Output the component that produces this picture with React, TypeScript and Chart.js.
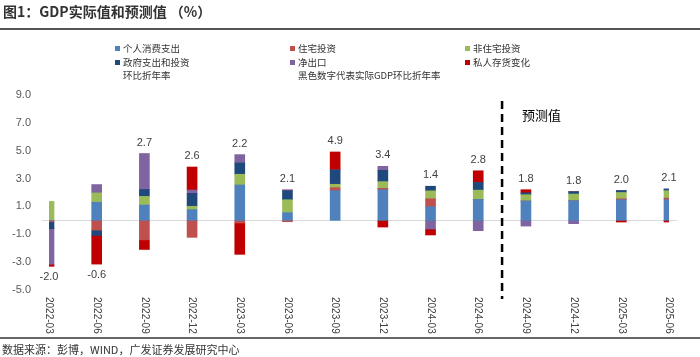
import React, { useEffect, useRef } from "react";
import { Chart, registerables } from "chart.js";

Chart.register(...registerables);

const categories = [
  "2022-03", "2022-06", "2022-09", "2022-12", "2023-03", "2023-06", "2023-09",
  "2023-12", "2024-03", "2024-06", "2024-09", "2024-12", "2025-03", "2025-06",
];
const consumption = [0, 1.3, 1.1, 0.77, 2.54, 0.55, 2.13, 2.2, 0.98, 1.5, 1.39, 1.41, 1.48, 1.48];
const residential = [-0.1, -0.7, -1.4, -1.22, -0.19, -0.1, 0.22, 0.1, 0.57, 0, 0, 0, 0.07, 0.12];
const nonResidential = [1.36, 0.67, 0.62, 0.24, 0.77, 0.93, 0.24, 0.48, 0.57, 0.67, 0.45, 0.48, 0.45, 0.53];
const government = [-0.5, -0.38, 0.5, 0.93, 0.81, 0.65, 1.03, 0.81, 0.33, 0.55, 0.14, 0.17, 0.14, 0.12];
const netExports = [-2.55, 0.6, 2.58, 0.24, 0.6, 0.05, 0, 0.29, -0.62, -0.74, -0.41, -0.24, 0, 0];
const inventories = [-0.15, -2.06, -0.69, 1.65, -2.25, 0, 1.29, -0.48, -0.43, 0.84, 0.22, 0, -0.12, -0.12];
const gdpValues = [-2.0, -0.6, 2.7, 2.6, 2.2, 2.1, 4.9, 3.4, 1.4, 2.8, 1.8, 1.8, 2.0, 2.1];
const yTicks = [-5, -3, -1, 1, 3, 5, 7, 9];
const forecastStartIndex = 10;

const seriesNames = ["个人消费支出", "住宅投资", "非住宅投资", "政府支出和投资", "净出口", "私人存货变化"];
const seriesColors = ["#4F81BD", "#C0504D", "#9BBB59", "#1F497D", "#8064A2", "#C00000"];
const seriesData = [consumption, residential, nonResidential, government, netExports, inventories];

const FONT_NUM = "'Liberation Sans', Arial, sans-serif";
const FONT_CJK = "'Noto Sans CJK SC', 'Liberation Sans', sans-serif";

const overlayPlugin = {
  id: "overlay",
  beforeDatasetsDraw(chart: any) {
    const { ctx, chartArea, scales } = chart;
    const y0 = Math.round(scales.y.getPixelForValue(0)) + 0.5;
    ctx.save();
    ctx.strokeStyle = "#D9D9D9";
    ctx.lineWidth = 1;
    ctx.beginPath();
    ctx.moveTo(chartArea.left - 7, y0);
    ctx.lineTo(chartArea.right + 8, y0);
    ctx.stroke();
    ctx.restore();
  },
  afterDatasetsDraw(chart: any) {
    const { ctx, chartArea, scales } = chart;
    const xs = scales.x;
    const ys = scales.y;
    ctx.save();
    ctx.font = `11px ${FONT_NUM}`;
    ctx.fillStyle = "#404040";
    ctx.textAlign = "center";
    ctx.textBaseline = "middle";
    categories.forEach((_, i) => {
      let pos = 0;
      let neg = 0;
      seriesData.forEach((s) => {
        if (s[i] > 0) pos += s[i];
        else neg += s[i];
      });
      const x = xs.getPixelForValue(i);
      const v = gdpValues[i];
      if (v >= 0) {
        ctx.fillText(v.toFixed(1), x, ys.getPixelForValue(pos) - 11);
      } else {
        ctx.fillText(v.toFixed(1), x, ys.getPixelForValue(neg) + 11);
      }
    });
    ctx.font = `10px ${FONT_NUM}`;
    ctx.fillStyle = "#404040";
    ctx.textAlign = "left";
    ctx.textBaseline = "middle";
    categories.forEach((c, i) => {
      const x = xs.getPixelForValue(i);
      ctx.save();
      ctx.translate(x, chartArea.bottom + 7);
      ctx.rotate(Math.PI / 2);
      ctx.fillText(c, 0, 0);
      ctx.restore();
    });
    const xd = (xs.getPixelForValue(forecastStartIndex - 1) + xs.getPixelForValue(forecastStartIndex)) / 2;
    ctx.strokeStyle = "#000";
    ctx.lineWidth = 2.5;
    ctx.setLineDash([8, 5]);
    ctx.beginPath();
    ctx.moveTo(xd, chartArea.top + 6);
    ctx.lineTo(xd, chartArea.bottom + 9);
    ctx.stroke();
    ctx.setLineDash([]);
    ctx.font = `13px ${FONT_CJK}`;
    ctx.fillStyle = "#000";
    ctx.textAlign = "left";
    ctx.textBaseline = "middle";
    ctx.fillText("预测值", xd + 20, chartArea.top + 20);
    ctx.restore();
  },
};

export default function App() {
  const ref = useRef<HTMLCanvasElement>(null);
  useEffect(() => {
    const chart = new Chart(ref.current!, {
      type: "bar",
      data: {
        labels: categories,
        datasets: seriesData.map((d, i) => ({
          label: seriesNames[i],
          data: d,
          backgroundColor: seriesColors[i],
          borderWidth: 0,
          barThickness: 10,
        })),
      },
      options: {
        responsive: false,
        animation: false,
        devicePixelRatio: 1,
        layout: { padding: { top: 95, left: 0, right: 31, bottom: 67 } },
        plugins: { legend: { display: false }, tooltip: { enabled: false } },
        scales: {
          x: { type: "category", display: false, offset: false, stacked: true },
          y: {
            stacked: true,
            min: -5,
            max: 9,
            grid: { display: false, drawTicks: false },
            border: { display: false },
            afterFit: (s: any) => {
              s.width = 49;
            },
            afterBuildTicks: (s: any) => {
              s.ticks = yTicks.map((v) => ({ value: v }));
            },
            ticks: {
              padding: 18,
              color: "#595959",
              font: { size: 11, family: FONT_NUM },
              callback: (v: any) => Number(v).toFixed(1),
            },
          },
        },
      },
      plugins: [overlayPlugin],
    });
    return () => chart.destroy();
  }, []);

  const legendRows = [
    [0, 1, 2],
    [3, 4, 5],
  ];
  const colX = [115, 290, 465];
  const rowY = [48, 62];

  return (
    <div
      style={{
        position: "absolute",
        left: 0,
        top: 0,
        width: 700,
        height: 357,
        background: "#fff",
        overflow: "hidden",
        fontFamily: FONT_CJK,
      }}
    >
      <canvas ref={ref} width={700} height={357} style={{ position: "absolute", left: 0, top: 0 }} />
      <div
        style={{
          position: "absolute",
          left: 3,
          top: 2,
          fontSize: 14,
          fontWeight: 700,
          color: "#333",
          lineHeight: "18px",
          whiteSpace: "nowrap",
        }}
      >
        图1：GDP实际值和预测值 （%）
      </div>
      <div style={{ position: "absolute", left: 0, top: 28, width: 700, height: 2, background: "#555" }} />
      {legendRows.map((row, r) =>
        row.map((idx, c) => (
          <div
            key={idx}
            style={{
              position: "absolute",
              left: colX[c],
              top: rowY[r] - 8,
              height: 16,
              display: "flex",
              alignItems: "center",
              fontSize: 9.5,
              color: "#333",
              whiteSpace: "nowrap",
            }}
          >
            <span style={{ display: "inline-block", width: 5, height: 5, background: seriesColors[idx], marginRight: 3 }} />
            {seriesNames[idx]}
          </div>
        ))
      )}
      <div style={{ position: "absolute", left: 123, top: 67, fontSize: 9.5, color: "#333", lineHeight: "16px", whiteSpace: "nowrap" }}>
        环比折年率
      </div>
      <div style={{ position: "absolute", left: 298, top: 67, fontSize: 9.5, color: "#333", lineHeight: "16px", whiteSpace: "nowrap" }}>
        黑色数字代表实际GDP环比折年率
      </div>
      <div style={{ position: "absolute", left: 0, top: 337, width: 700, height: 2, background: "#666" }} />
      <div style={{ position: "absolute", left: 2, top: 341, fontSize: 11, color: "#333", lineHeight: "16px", whiteSpace: "nowrap" }}>
        数据来源：彭博，WIND，广发证券发展研究中心
      </div>
    </div>
  );
}
